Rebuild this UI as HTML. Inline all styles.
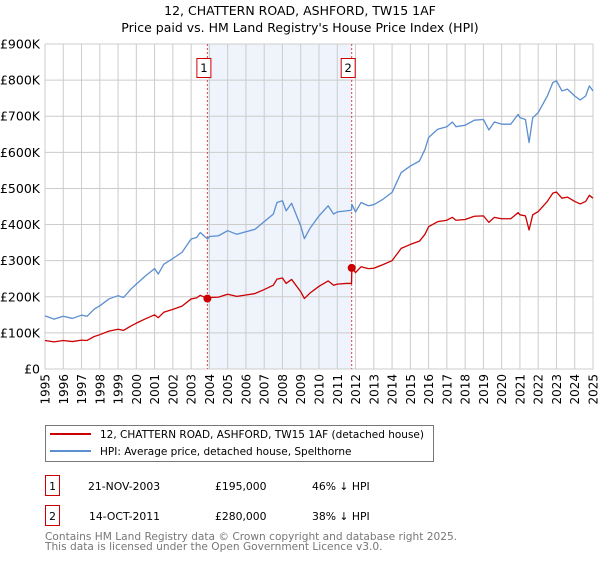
<!DOCTYPE html>
<html><head><meta charset="utf-8"><style>
body{margin:0;background:#fff;font-family:"DejaVu Sans","Liberation Sans",sans-serif;}
svg text{font-family:"DejaVu Sans","Liberation Sans",sans-serif;}
</style></head><body>
<svg id="chart" width="600" height="560" viewBox="0 0 600 560" xmlns="http://www.w3.org/2000/svg">
<text x="300" y="15" text-anchor="middle" font-size="12.5">12, CHATTERN ROAD, ASHFORD, TW15 1AF</text>
<text x="300" y="32" text-anchor="middle" font-size="12.5">Price paid vs. HM Land Registry's House Price Index (HPI)</text>
<g id="plot"></g>
<g>
<rect x="45.5" y="425.5" width="388" height="36" fill="#fff" stroke="#777"/>
<line x1="50" y1="434" x2="91" y2="434" stroke="#cc0000" stroke-width="2"/>
<text x="100" y="438" font-size="10.5">12, CHATTERN ROAD, ASHFORD, TW15 1AF (detached house)</text>
<line x1="50" y1="451" x2="91" y2="451" stroke="#5b8fd0" stroke-width="2"/>
<text x="100" y="455" font-size="10.5">HPI: Average price, detached house, Spelthorne</text>
</g>
<g font-size="10.8">
<rect x="45.5" y="475.5" width="14" height="20" fill="#fff" stroke="#cc0000"/>
<text x="52.5" y="490" text-anchor="middle">1</text>
<text x="88" y="490">21-NOV-2003</text><text x="215" y="490">£195,000</text><text x="312" y="490">46% ↓ HPI</text>
<rect x="45.5" y="505.5" width="14" height="20" fill="#fff" stroke="#cc0000"/>
<text x="52.5" y="520" text-anchor="middle">2</text>
<text x="89" y="520">14-OCT-2011</text><text x="215" y="520">£280,000</text><text x="312" y="520">38% ↓ HPI</text>
</g>
<text x="45" y="540" font-size="10.6" fill="#777">Contains HM Land Registry data © Crown copyright and database right 2025.</text>
<text x="45" y="550" font-size="10.6" fill="#777">This data is licensed under the Open Government Licence v3.0.</text>
</svg>
<script>
const dates=[1995,1995.5,1996,1996.5,1997,1997.3,1997.7,1998,1998.5,1999,1999.3,1999.7,2000,2000.5,2001,2001.2,2001.5,2002,2002.5,2003,2003.3,2003.5,2003.9,2004,2004.5,2005,2005.5,2006,2006.5,2007,2007.5,2007.7,2008,2008.2,2008.5,2009,2009.2,2009.5,2010,2010.5,2010.8,2011,2011.5,2011.78,2011.8,2012,2012.3,2012.7,2013,2013.5,2014,2014.5,2015,2015.5,2015.8,2016,2016.5,2017,2017.3,2017.5,2018,2018.5,2019,2019.3,2019.6,2020,2020.5,2020.9,2021,2021.3,2021.5,2021.7,2022,2022.5,2022.8,2023,2023.3,2023.6,2024,2024.3,2024.6,2024.8,2025];
const hpiValues=[147,138,146,140,149,146,166,175,194,203,198,221,235,258,278,263,290,306,323,360,364,378,360,367,369,383,373,380,387,408,429,461,466,438,459,396,361,389,424,452,429,435,438,440,456,435,461,452,455,470,489,544,562,576,608,641,664,671,684,671,675,689,691,662,684,678,678,705,696,691,627,696,710,756,793,798,770,775,756,745,756,784,770];
const priceValues=[79,75,79,76,80,79,90,95,105,110,107,119,127,139,150,142,157,165,174,194,197,204,195,198,199,207,201,205,209,220,232,249,252,237,248,214,195,210,229,244,232,235,237,237,280,267,283,278,279,289,300,334,345,354,373,394,408,412,420,412,414,423,424,406,420,416,416,433,427,424,385,427,436,464,487,490,473,476,464,457,464,481,473];
const yTicks=[0,100,200,300,400,500,600,700,800,900];
const yTickLabels=["£0","£100K","£200K","£300K","£400K","£500K","£600K","£700K","£800K","£900K"];
const xYears=[1995,1996,1997,1998,1999,2000,2001,2002,2003,2004,2005,2006,2007,2008,2009,2010,2011,2012,2013,2014,2015,2016,2017,2018,2019,2020,2021,2022,2023,2024,2025];
const saleDates=[2003.89,2011.79];
const salePrices=[195,280];
const saleLabels=["1","2"];
const X0=45,X1=593,Y0=369,Y1=44;
const x=t=>X0+(t-1995)/30*(X1-X0);
const y=v=>Y0-v/900*(Y0-Y1);
const NS="http://www.w3.org/2000/svg";
const g=document.getElementById('plot');
function mk(tag,attrs,parent){const e=document.createElementNS(NS,tag);for(const k in attrs)e.setAttribute(k,attrs[k]);(parent||g).appendChild(e);return e;}
let e=mk('rect',{x:x(saleDates[0]),y:Y1,width:x(saleDates[1])-x(saleDates[0]),height:Y0-Y1,fill:'#eef3fc'});


xYears.forEach(t=>{
 const l=mk('line',{x1:x(t),x2:x(t),y1:Y1,y2:Y0,stroke:'#cccccc'});
 
 
 const tx=mk('text',{x:0,y:0,'font-size':12,'text-anchor':'end',transform:`translate(${x(t)+4.5},374) rotate(-90)`});
 tx.textContent=t;
 
 
});
yTicks.forEach((v,i)=>{
 const l=mk('line',{x1:X0,x2:X1,y1:y(v),y2:y(v),stroke:'#cccccc'});
 
 
 const tx=mk('text',{x:40,y:y(v)+4.5,'font-size':12.5,'text-anchor':'end'});
 tx.textContent=yTickLabels[i];
 
 
});
saleDates.forEach((d,i)=>{
 const l=mk('line',{x1:x(d),x2:x(d),y1:Y1,y2:Y0,stroke:'#dd4444','stroke-dasharray':'2,2'});
 
 
});
function path(vals,color,name){
 const p=mk('polyline',{points:dates.map((d,i)=>x(d)+','+y(vals[i])).join(' '),fill:'none',stroke:color,'stroke-width':1.3,'stroke-linejoin':'round'});
 
 
}
path(hpiValues,'#5b8fd0','hpi-line');
path(priceValues,'#cc0000','price-paid-line');
saleDates.forEach((d,i)=>{
 const c=mk('circle',{cx:x(d),cy:y(salePrices[i]),r:4,fill:'#cc0000'});
 
 
 const r=mk('rect',{x:x(d)-10.5,y:58.5,width:14,height:19,fill:'#fff',stroke:'#cc0000'});
 
 
 const t=mk('text',{x:x(d)-3.5,y:72,'font-size':11.5,'text-anchor':'middle'});
 t.textContent=saleLabels[i];
 
 
});
</script>
</body></html>
